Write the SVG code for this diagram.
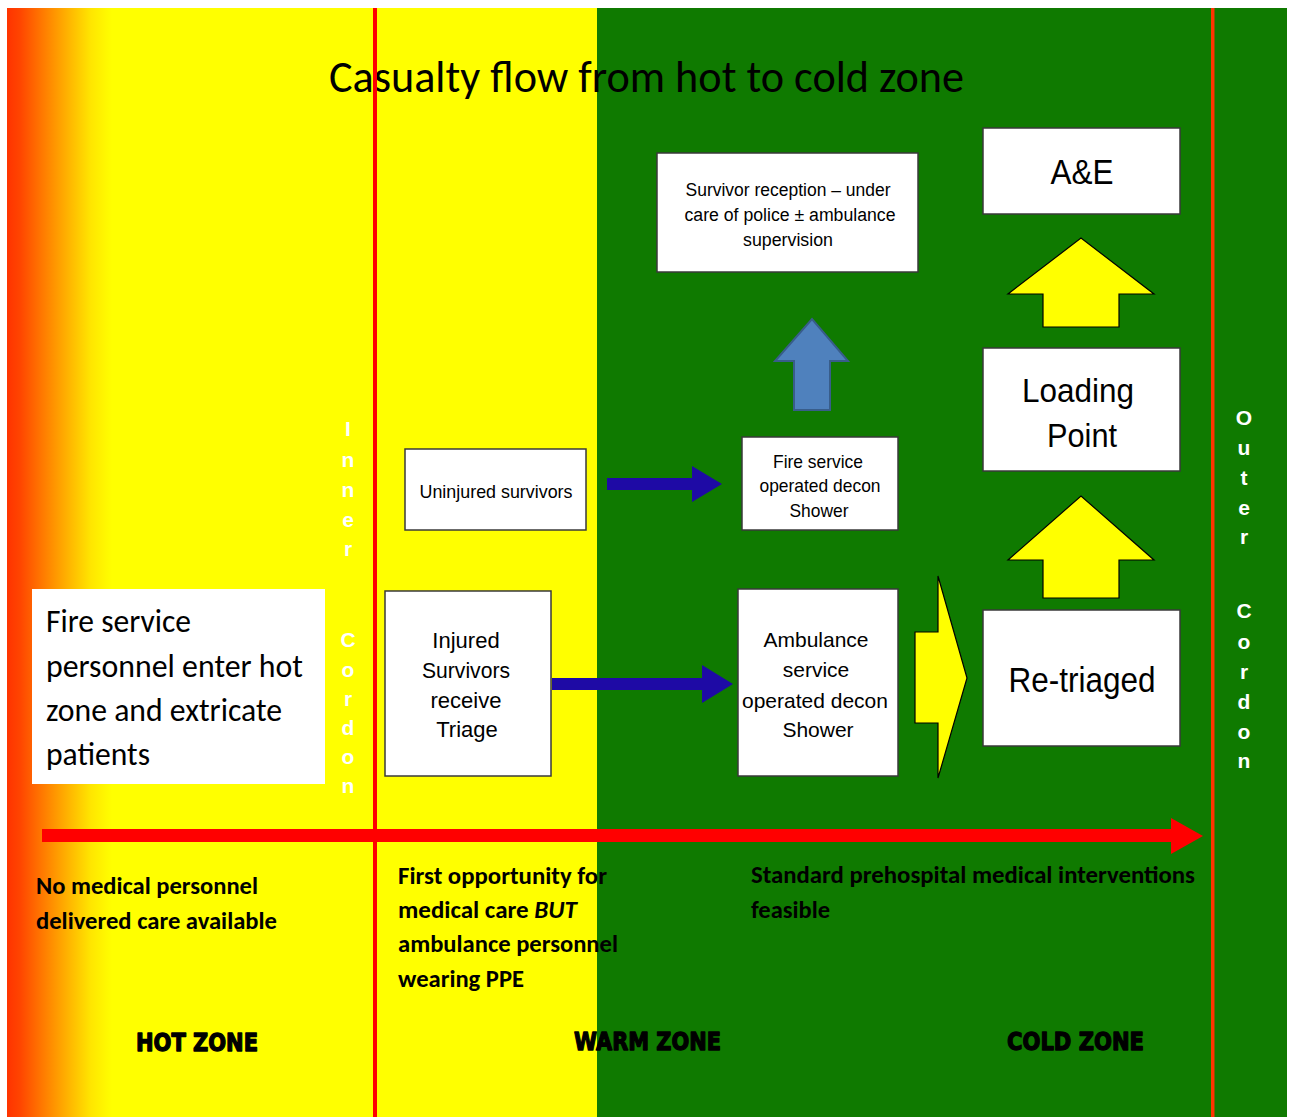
<svg xmlns="http://www.w3.org/2000/svg" width="1290" height="1117" viewBox="0 0 1290 1117">
<style>
.box{fill:#fff;stroke:#3a3a3a;stroke-width:1.5}
.ar{font-family:"Liberation Sans",Arial,sans-serif;fill:#000;text-anchor:middle}
.cal{font-family:Carlito,Lato,"Open Sans",sans-serif;fill:#000}
.calb{font-family:Carlito,Lato,"Open Sans",sans-serif;font-weight:bold;font-size:25px;fill:#000}
.zone{font-family:"DejaVu Sans","Liberation Sans",sans-serif;font-weight:bold;font-size:24px;fill:#000;stroke:#000;stroke-width:1.3;stroke-linejoin:round}
.cord{font-family:"Liberation Sans",Arial,sans-serif;font-weight:bold;font-size:21px;fill:#fff;text-anchor:middle}
.yarrow{fill:#ffff00;stroke:#000;stroke-width:1.2}
.barrow{fill:#1e0aa5}
</style>
<defs>
<linearGradient id="hot" gradientUnits="userSpaceOnUse" x1="7" y1="0" x2="112" y2="0">
<stop offset="0" stop-color="#ff3300"/>
<stop offset="0.12" stop-color="#ff4400"/>
<stop offset="0.36" stop-color="#ff7f00"/>
<stop offset="0.6" stop-color="#ffb800"/>
<stop offset="0.8" stop-color="#ffe600"/>
<stop offset="1" stop-color="#ffff00"/>
</linearGradient>
</defs>
<rect x="0" y="0" width="1290" height="1117" fill="#fff"/>
<g id="background">
<rect x="7" y="8" width="591" height="1109" fill="#ffff00"/>
<rect x="7" y="8" width="106" height="1109" fill="url(#hot)"/>
<rect x="597" y="8" width="690" height="1109" fill="#0f7a00"/>
</g>
<g id="title">
<text class="cal" x="329" y="92" font-size="46" textLength="635" lengthAdjust="spacingAndGlyphs">Casualty flow from hot to cold zone</text>
</g>
<g id="cordons">
<rect x="373" y="8" width="4" height="1109" fill="#ff0000"/>
<rect x="1211" y="8" width="3.5" height="1109" fill="#ff3300"/>
<text class="cord" x="348" y="436">I</text>
<text class="cord" x="348" y="467">n</text>
<text class="cord" x="348" y="497">n</text>
<text class="cord" x="348" y="527">e</text>
<text class="cord" x="348" y="556">r</text>
<text class="cord" x="348" y="647">C</text>
<text class="cord" x="348" y="677">o</text>
<text class="cord" x="348" y="706">r</text>
<text class="cord" x="348" y="735">d</text>
<text class="cord" x="348" y="764">o</text>
<text class="cord" x="348" y="793">n</text>
<text class="cord" x="1244" y="425">O</text>
<text class="cord" x="1244" y="455">u</text>
<text class="cord" x="1244" y="485">t</text>
<text class="cord" x="1244" y="515">e</text>
<text class="cord" x="1244" y="544">r</text>
<text class="cord" x="1244" y="618">C</text>
<text class="cord" x="1244" y="649">o</text>
<text class="cord" x="1244" y="679">r</text>
<text class="cord" x="1244" y="709">d</text>
<text class="cord" x="1244" y="739">o</text>
<text class="cord" x="1244" y="768">n</text>
</g>
<g id="zone-notes">
<text class="calb" x="36" y="894" textLength="222" lengthAdjust="spacingAndGlyphs">No medical personnel</text>
<text class="calb" x="36" y="929" textLength="241" lengthAdjust="spacingAndGlyphs">delivered care available</text>
<text class="calb" x="398" y="884" textLength="209" lengthAdjust="spacingAndGlyphs">First opportunity for</text>
<text class="calb" x="398" y="918" textLength="179" lengthAdjust="spacingAndGlyphs">medical care <tspan font-style="italic">BUT</tspan></text>
<text class="calb" x="398" y="952" textLength="220" lengthAdjust="spacingAndGlyphs">ambulance personnel</text>
<text class="calb" x="398" y="987" textLength="126" lengthAdjust="spacingAndGlyphs">wearing PPE</text>
<text class="calb" x="751" y="883" textLength="444" lengthAdjust="spacingAndGlyphs">Standard prehospital medical interventions</text>
<text class="calb" x="751" y="918" textLength="79" lengthAdjust="spacingAndGlyphs">feasible</text>
<text class="zone" x="136" y="1051" textLength="122" lengthAdjust="spacingAndGlyphs">HOT ZONE</text>
<text class="zone" x="574" y="1050" textLength="147" lengthAdjust="spacingAndGlyphs">WARM ZONE</text>
<text class="zone" x="1007" y="1050" textLength="137" lengthAdjust="spacingAndGlyphs">COLD ZONE</text>
</g>
<g id="connectors">
<rect x="42" y="829" width="1130" height="13" fill="#ff0000"/>
<path d="M1171,818 L1203,836 L1171,854 Z" fill="#ff0000"/>
<path class="barrow" d="M607,478 H692 V466 L722,484 L692,502 V490 H607 Z"/>
<path class="barrow" d="M552,678 H702 V665 L733,684 L702,703 V690 H552 Z"/>
<path d="M794,410 V361 H775 L812,319 L848,361 H830 V410 Z" fill="#4f81bd" stroke="#385d8a" stroke-width="2"/>
<path class="yarrow" d="M1043,327 V294 H1008 L1081,238 L1154,294 H1119 V327 Z"/>
<path class="yarrow" d="M1043,598 V560 H1008 L1081,496 L1154,560 H1119 V598 Z"/>
<path class="yarrow" d="M915,632 H938 V576 L967,678 L938,778 V723 H915 Z"/>
</g>
<g id="node-fire-personnel">
<rect x="32" y="589" width="293" height="195" fill="#fff"/>
<text class="cal" x="46" y="632" font-size="32" textLength="145" lengthAdjust="spacingAndGlyphs">Fire service</text>
<text class="cal" x="46" y="677" font-size="32" textLength="257" lengthAdjust="spacingAndGlyphs">personnel enter hot</text>
<text class="cal" x="46" y="721" font-size="32" textLength="236" lengthAdjust="spacingAndGlyphs">zone and extricate</text>
<text class="cal" x="46" y="765" font-size="32" textLength="104" lengthAdjust="spacingAndGlyphs">patients</text>
</g>
<g id="node-uninjured">
<rect class="box" x="405" y="449" width="181" height="81"/>
<text class="ar" x="496" y="498" font-size="19" textLength="153" lengthAdjust="spacingAndGlyphs">Uninjured survivors</text>
</g>
<g id="node-injured">
<rect class="box" x="385" y="591" width="166" height="185"/>
<text class="ar" x="466" y="648" font-size="22">Injured</text>
<text class="ar" x="466" y="678" font-size="22" textLength="88" lengthAdjust="spacingAndGlyphs">Survivors</text>
<text class="ar" x="466" y="708" font-size="22">receive</text>
<text class="ar" x="467" y="737" font-size="22">Triage</text>
</g>
<g id="node-fire-decon">
<rect class="box" x="742" y="437" width="156" height="93"/>
<text class="ar" x="818" y="468" font-size="19" textLength="90" lengthAdjust="spacingAndGlyphs">Fire service</text>
<text class="ar" x="820" y="492" font-size="19" textLength="121" lengthAdjust="spacingAndGlyphs">operated decon</text>
<text class="ar" x="819" y="517" font-size="19" textLength="59" lengthAdjust="spacingAndGlyphs">Shower</text>
</g>
<g id="node-ambulance-decon">
<rect class="box" x="738" y="589" width="160" height="187"/>
<text class="ar" x="816" y="647" font-size="21">Ambulance</text>
<text class="ar" x="816" y="677" font-size="21">service</text>
<text class="ar" x="815" y="708" font-size="21" textLength="146" lengthAdjust="spacingAndGlyphs">operated decon</text>
<text class="ar" x="818" y="737" font-size="21">Shower</text>
</g>
<g id="node-survivor-reception">
<rect class="box" x="657" y="153" width="261" height="119"/>
<text class="ar" x="788" y="196" font-size="18" textLength="205" lengthAdjust="spacingAndGlyphs">Survivor reception – under</text>
<text class="ar" x="790" y="221" font-size="18" textLength="211" lengthAdjust="spacingAndGlyphs">care of police ± ambulance</text>
<text class="ar" x="788" y="246" font-size="18" textLength="90" lengthAdjust="spacingAndGlyphs">supervision</text>
</g>
<g id="node-ae">
<rect class="box" x="983" y="128" width="197" height="86"/>
<text class="ar" x="1082" y="184" font-size="35" textLength="63" lengthAdjust="spacingAndGlyphs">A&amp;E</text>
</g>
<g id="node-loading">
<rect class="box" x="983" y="348" width="197" height="123"/>
<text class="ar" x="1078" y="402" font-size="34" textLength="112" lengthAdjust="spacingAndGlyphs">Loading</text>
<text class="ar" x="1082" y="447" font-size="34" textLength="70" lengthAdjust="spacingAndGlyphs">Point</text>
</g>
<g id="node-retriaged">
<rect class="box" x="983" y="610" width="197" height="136"/>
<text class="ar" x="1082" y="692" font-size="35" textLength="147" lengthAdjust="spacingAndGlyphs">Re-triaged</text>
</g>
</svg>
